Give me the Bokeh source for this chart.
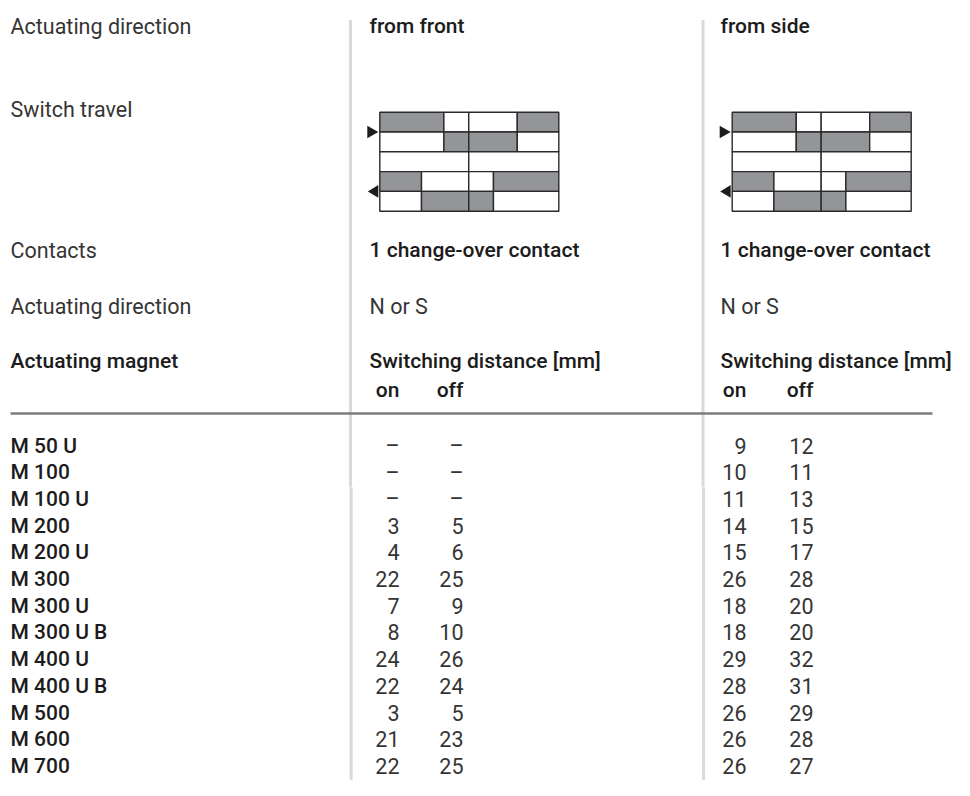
from bokeh.plotting import figure
from bokeh.models import Range1d, ColumnDataSource
from bokeh.core.properties import value
from bokeh.embed import file_html
from bokeh.resources import INLINE

# ---------------- data ----------------
row_labels = ["Actuating direction", "Switch travel", "Contacts", "Actuating direction"]
magnet_header = "Actuating magnet"
directions = ["from front", "from side"]
contacts = ["1 change-over contact", "1 change-over contact"]
poles = ["N or S", "N or S"]
dist_header = "Switching distance [mm]"
on_off = ["on", "off"]

magnets = ["M 50 U", "M 100", "M 100 U", "M 200", "M 200 U", "M 300", "M 300 U",
           "M 300 U B", "M 400 U", "M 400 U B", "M 500", "M 600", "M 700"]
front_on = [None, None, None, 3, 4, 22, 7, 8, 24, 22, 3, 21, 22]
front_off = [None, None, None, 5, 6, 25, 9, 10, 26, 24, 5, 23, 25]
side_on = [9, 10, 11, 14, 15, 26, 18, 18, 29, 28, 26, 26, 26]
side_off = [12, 11, 13, 15, 17, 28, 20, 20, 32, 31, 29, 28, 27]

# switch-travel diagram (travel in % of full stroke), rows 0..4, state 1 = contact closed
diag_row = [0, 0, 0, 0, 1, 1, 1, 1, 2, 2, 3, 3, 3, 3, 4, 4, 4, 4]
diag_start = [0, 35.8, 49.7, 76.8, 0, 35.8, 49.7, 76.8, 0, 49.7, 0, 23.3, 49.7, 63.5, 0, 23.3, 49.7, 63.5]
diag_end = [35.8, 49.7, 76.8, 100, 35.8, 49.7, 76.8, 100, 49.7, 100, 23.3, 49.7, 63.5, 100, 23.3, 49.7, 63.5, 100]
diag_state = [1, 0, 0, 1, 0, 1, 1, 0, 0, 0, 1, 0, 0, 1, 0, 1, 1, 0]
arrow_rows = [1, 4]          # boundary row index where the arrows sit
arrow_dirs = ["right", "left"]

# ---------------- layout / style ----------------
W, H = 954, 780
REG = value("Roboto")
MED = value("Roboto Medium")
FS_R = "21.5px"
FS_M = "21px"
C_REG = "#353535"
C_MED = "#1c1c1c"
TDY = -7.5   # text baseline correction

LEFT_X = 10
COL_X = [369, 720]
ON_X = [399, 746]
OFF_X = [463, 813]
VLINE_X = [350, 702.5]
DIAG_X0 = [379.3, 731.7]
DIAG_W = 179.0
DIAG_Y0 = 111.7
DIAG_RH = 19.8

BASE_TOP = 33.3 + TDY
BASE_TRAVEL = 116.7 + TDY
BASE_CONTACTS = 257.0 + TDY
BASE_POLES = 313.3 + TDY
BASE_HEAD = 368.3 + TDY
BASE_ONOFF = 396.7 + TDY
RULE_Y = 413.0
ROW0 = 452.5 + TDY
ROW_STEP = 26.7

p = figure(width=W, height=H, x_range=Range1d(0, W), y_range=Range1d(H, 0),
           output_backend="svg", toolbar_location=None, min_border=0,
           x_axis_type=None, y_axis_type=None)
p.grid.visible = False
p.outline_line_color = None
p.background_fill_color = "white"
p.border_fill_color = "white"

# vertical separators
for vx in VLINE_X:
    p.segment(x0=[vx, vx + 0.6], y0=[19.5, 486.5], x1=[vx, vx + 0.6], y1=[486, H],
              line_color="#d9d9d9", line_width=3)

# horizontal rule
p.segment(x0=[10], y0=[RULE_Y], x1=[932], y1=[RULE_Y], line_color="#7d7d7d", line_width=2.6)

# left labels
left_ys = [BASE_TOP, BASE_TRAVEL, BASE_CONTACTS, BASE_POLES]
p.text(x=[LEFT_X] * 4, y=left_ys, text=row_labels, text_font=REG, text_font_size=FS_R,
       text_color=C_REG, text_baseline="alphabetic", text_align="left")
p.text(x=[LEFT_X], y=[BASE_HEAD], text=[magnet_header], text_font=MED, text_font_size=FS_M,
       text_color=C_MED, text_baseline="alphabetic", text_align="left")

# column headers
p.text(x=COL_X, y=[BASE_TOP] * 2, text=directions, text_font=MED, text_font_size=FS_M,
       text_color=C_MED, text_baseline="alphabetic")
p.text(x=COL_X, y=[BASE_CONTACTS] * 2, text=contacts, text_font=MED, text_font_size=FS_M,
       text_color=C_MED, text_baseline="alphabetic")
p.text(x=COL_X, y=[BASE_POLES] * 2, text=poles, text_font=REG, text_font_size=FS_R,
       text_color=C_REG, text_baseline="alphabetic")
p.text(x=COL_X, y=[BASE_HEAD] * 2, text=[dist_header] * 2, text_font=MED, text_font_size=FS_M,
       text_color=C_MED, text_baseline="alphabetic")
p.text(x=ON_X + OFF_X, y=[BASE_ONOFF] * 4, text=[on_off[0]] * 2 + [on_off[1]] * 2,
       text_font=MED, text_font_size=FS_M, text_color=C_MED, text_baseline="alphabetic",
       text_align="right")

# diagrams
for k in range(2):
    src = ColumnDataSource(dict(
        left=[DIAG_X0[k] + DIAG_W * s / 100 for s in diag_start],
        right=[DIAG_X0[k] + DIAG_W * e / 100 for e in diag_end],
        top=[DIAG_Y0 + DIAG_RH * r for r in diag_row],
        bottom=[DIAG_Y0 + DIAG_RH * (r + 1) for r in diag_row],
        fill=["#939598" if st else "white" for st in diag_state],
    ))
    p.quad(left="left", right="right", top="top", bottom="bottom", fill_color="fill",
           line_color="#2a2a2a", line_width=1.4, source=src)
    xs, ys = [], []
    for r, d in zip(arrow_rows, arrow_dirs):
        yc = DIAG_Y0 + DIAG_RH * r
        x0 = DIAG_X0[k]
        if d == "right":
            xs.append([x0 - 12.5, x0 - 12.5, x0 - 1.5])
        else:
            xs.append([x0 - 1.5, x0 - 1.5, x0 - 12.0])
        ys.append([yc - 6.3, yc + 6.3, yc])
    p.patches(xs=xs, ys=ys, fill_color="#1c1c1c", line_color=None)

# table rows
row_y = [ROW0 + ROW_STEP * i for i in range(len(magnets))]
p.text(x=[LEFT_X] * len(magnets), y=row_y, text=magnets, text_font=MED, text_font_size=FS_M,
       text_color=C_MED, text_baseline="alphabetic")


def fmt(v):
    return "\u2013" if v is None else str(v)


for k, (ons, offs) in enumerate([(front_on, front_off), (side_on, side_off)]):
    p.text(x=[ON_X[k]] * len(ons), y=row_y, text=[fmt(v) for v in ons], text_font=REG,
           text_font_size=FS_R, text_color=C_REG, text_baseline="alphabetic", text_align="right")
    p.text(x=[OFF_X[k]] * len(offs), y=row_y, text=[fmt(v) for v in offs], text_font=REG,
           text_font_size=FS_R, text_color=C_REG, text_baseline="alphabetic", text_align="right")

open("out.html", "w").write(file_html(p, INLINE))
